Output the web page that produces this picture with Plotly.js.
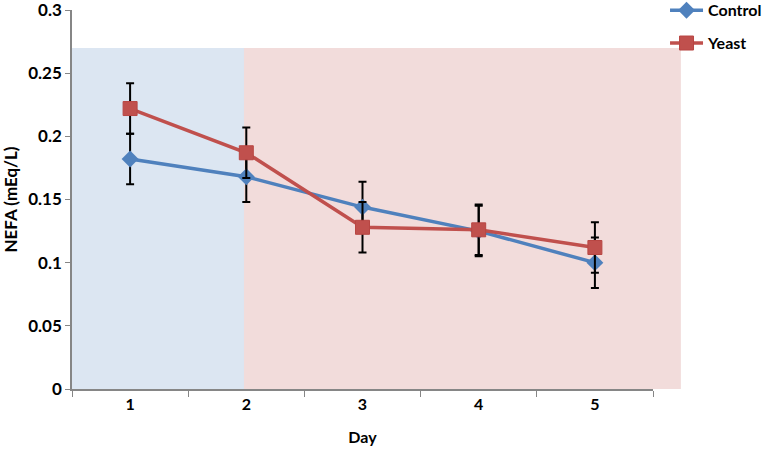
<!DOCTYPE html>
<html>
<head>
<meta charset="utf-8">
<script src="https://cdn.plot.ly/plotly-3.0.1.min.js"></script>
<style>
  html, body { margin: 0; padding: 0; background: #fff; }
  #chart { width: 765px; height: 450px; }
</style>
</head>
<body>
<div id="chart"></div>
<script>
var days = ['1', '2', '3', '4', '5'];
var control = [0.182, 0.168, 0.144, 0.125, 0.100];
var control_err = [0.020, 0.020, 0.020, 0.020, 0.020];
var yeast = [0.222, 0.187, 0.128, 0.126, 0.112];
var yeast_err = [0.020, 0.020, 0.020, 0.020, 0.020];

var font = 'Lato, "Open Sans", sans-serif';

var control_trace = {
    x: days,
    y: control,
    name: 'Control',
    legendgroup: 'c',
    type: 'scatter',
    mode: 'lines+markers',
    line: {color: '#4f81bd', width: 3.5},
    marker: {symbol: 'diamond', size: 13, color: '#4f81bd'},
    error_y: {type: 'data', array: control_err, visible: true, color: '#000', thickness: 2, width: 4}
};

var yeast_trace = {
    x: days,
    y: yeast,
    name: 'Yeast',
    legendgroup: 'y',
    type: 'scatter',
    mode: 'lines+markers',
    line: {color: '#c0504d', width: 3.5},
    marker: {symbol: 'square', size: 14, color: '#c0504d', line: {color: '#b84643', width: 1}},
    error_y: {type: 'data', array: yeast_err, visible: true, color: '#000', thickness: 2, width: 4}
};

var layout = {
    width: 765,
    height: 450,
    margin: {l: 72, r: 112, t: 10, b: 61, autoexpand: false},
    paper_bgcolor: '#fff',
    plot_bgcolor: 'rgba(0,0,0,0)',
    font: {family: font, size: 15, color: '#000', weight: 'bold'},
    showlegend: true,
    legend: {
        x: 1.0207, y: 1.044, xanchor: 'left', yanchor: 'top',
        bgcolor: 'rgba(0,0,0,0)',
        tracegroupgap: 9,
        itemwidth: 33,
        font: {family: font, size: 16, color: '#000', weight: 'bold'}
    },
    xaxis: {
        type: 'category',
        range: [-0.5, 4.5],
        tickson: 'boundaries',
        ticks: 'outside',
        ticklen: 6,
        tickcolor: '#868686',
        showline: true,
        linecolor: '#868686',
        linewidth: 1.5,
        showgrid: false,
        zeroline: false,
        tickfont: {family: font, size: 16, weight: 'bold'},
        title: {text: 'Day', font: {family: font, size: 16, weight: 'bold'}, standoff: 20}
    },
    yaxis: {
        range: [0, 0.3],
        dtick: 0.05,
        ticks: 'outside',
        ticklen: 5,
        tickcolor: '#868686',
        showline: true,
        linecolor: '#868686',
        linewidth: 1.5,
        showgrid: false,
        zeroline: false,
        ticklabeloverflow: 'allow',
        tickfont: {family: font, size: 17, weight: 'bold'},
        title: {text: 'NEFA (mEq/L)', font: {family: font, size: 17, weight: 'bold'}, standoff: 10}
    },
    shapes: [
        {type: 'rect', layer: 'below', xref: 'paper', yref: 'paper',
         x0: 0, x1: 0.296, y0: 0, y1: 0.9,
         fillcolor: '#dce6f2', line: {width: 0}},
        {type: 'rect', layer: 'below', xref: 'paper', yref: 'paper',
         x0: 0.296, x1: 1.048, y0: 0, y1: 0.9,
         fillcolor: '#f2dcdb', line: {width: 0}}
    ]
};

Plotly.newPlot('chart', [control_trace, yeast_trace], layout, {displayModeBar: false});
</script>
</body>
</html>
